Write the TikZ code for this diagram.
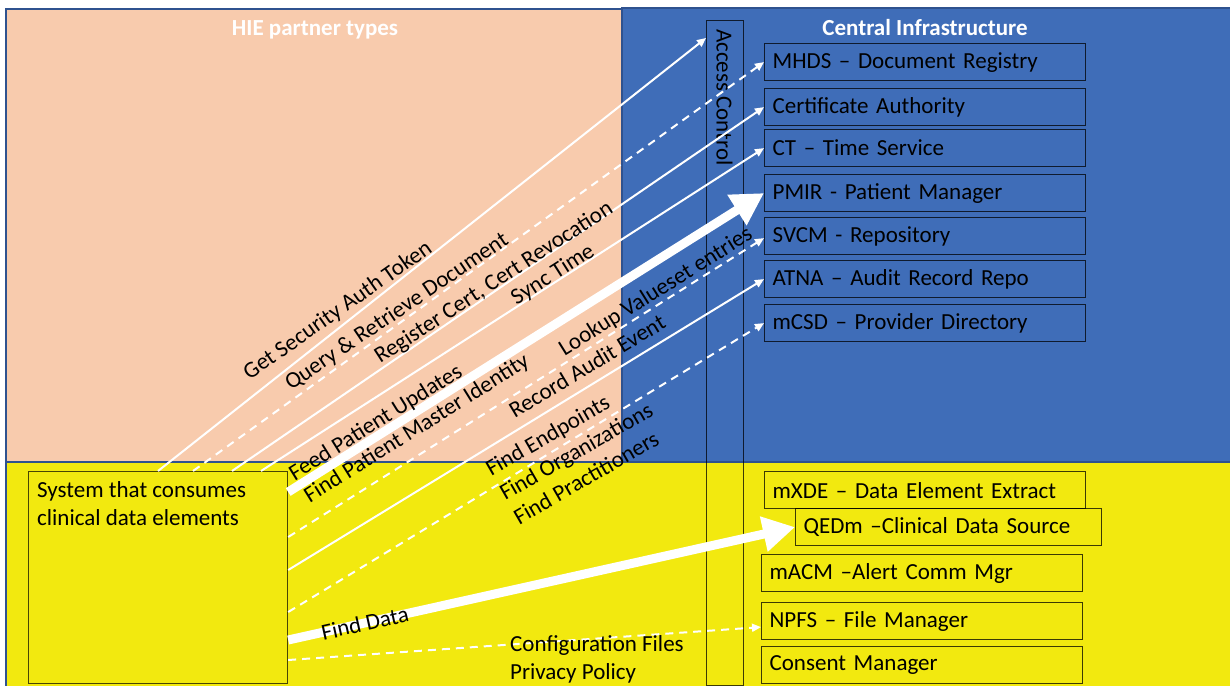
\documentclass[tikz,border=0pt]{standalone}
\usepackage{fontspec}
\setmainfont{Carlito}
\usetikzlibrary{arrows.meta}

\definecolor{salmon}{HTML}{F8CBAD}
\definecolor{infra}{HTML}{3F6DB8}
\definecolor{lemon}{HTML}{F2E90F}
\definecolor{zoneedge}{HTML}{2F528F}

\begin{document}
\begin{tikzpicture}[
  x=1pt, y=-1pt,
  font=\fontsize{23}{28}\selectfont,
  zone/.style={draw=zoneedge, line width=1.5pt},
  svc/.style={draw=black, draw opacity=0.75, line width=1.2pt, anchor=north west,
    minimum height=37pt, text width=#1, inner xsep=8pt, inner ysep=0pt,
    align=left, text=black},
  svc/.default=305pt,
  heading/.style={text=white, font=\fontsize{23}{28}\selectfont\bfseries, inner sep=0pt},
  lbl/.style={inner sep=0pt, text=black},
  flow/.style={white, line width=2pt, -{Triangle[length=9pt,width=8pt]}},
  dflow/.style={flow, dash pattern=on 8pt off 6pt},
  bigflow/.style={white, line width=9pt, -{Triangle[length=32pt,width=34pt]}}
]
\useasboundingbox (0,0) rectangle (1230,685);
\fill[white] (0,0) rectangle (1230,685);

% background zones
\fill[salmon] (6,9) rectangle (622,462);
\fill[infra] (622,8) rectangle (1232,462);
\fill[lemon] (6,462) rectangle (1232,687);
\draw[zone] (6,9) rectangle (622,462);
\draw[zone] (622,8) rectangle (1232,462);
\draw[zone] (6,462) rectangle (1232,687);

\node[heading] (hie) at (315,30) {HIE partner types};
\node[heading] (central) at (925,28) {Central Infrastructure};

% access control column
\node[draw=black, draw opacity=0.75, line width=1.2pt, anchor=north west,
      minimum width=37pt, minimum height=665pt, inner sep=0pt] (ac) at (706,20) {};
\node[lbl, rotate=-90, anchor=west] (actext) at (724.5,29) {Access Control};

% central services
\node[svc] (mhds) at (764,43) {MHDS -- Document Registry};
\node[svc] (ca) at (764,88) {Certificate Authority};
\node[svc] (ct) at (764,129) {CT -- Time Service};
\node[svc] (pmir) at (764,174) {PMIR - Patient Manager};
\node[svc] (svcm) at (764,217) {SVCM - Repository};
\node[svc] (atna) at (764,260) {ATNA -- Audit Record Repo};
\node[svc] (mcsd) at (764,304) {mCSD -- Provider Directory};

\node[svc] (mxde) at (764,471) {mXDE -- Data Element Extract};
\node[svc=290pt] (qedm) at (795,508) {QEDm --Clinical Data Source};
\node[svc] (macm) at (761,554) {mACM --Alert Comm Mgr};
\node[svc] (npfs) at (761,602) {NPFS -- File Manager};
\node[svc] (consent) at (761,646) {Consent Manager};

% consuming system
\node[draw=black, draw opacity=0.7, line width=1.2pt, anchor=north west,
      minimum width=259pt, minimum height=212pt, inner sep=0pt] (sys) at (28,471) {};
\node[lbl, anchor=north west, align=left] (systext) at (37,481)
  {System that consumes\\clinical data elements};

% transactions
\draw[flow]  ([xshift=130pt]sys.north west) -- ([yshift=-18pt]ac.north west);
\draw[dflow] ([xshift=165pt]sys.north west) -- (mhds.west);
\draw[flow]  ([xshift=204pt]sys.north west) -- (ca.west);
\draw[flow]  ([xshift=233pt]sys.north west) -- (ct.west);
\draw[bigflow] ([yshift=-21pt]sys.north east) -- (pmir.west);
\draw[dflow] ([yshift=-66pt]sys.north east) -- ([yshift=-2pt]svcm.west);
\draw[flow]  ([yshift=-99pt]sys.north east) -- (atna.west);
\draw[dflow] ([yshift=-141pt]sys.north east) -- (mcsd.west);
\draw[bigflow] ([yshift=-169pt]sys.north east) -- (qedm.west);
\draw[dflow] ([yshift=-189pt]sys.north east) -- ([yshift=-6pt]npfs.west);

% transaction labels
\node[lbl, rotate=35] (lget) at (338,311) {Get Security Auth Token};
\node[lbl, rotate=34] (lquery) at (397,312) {Query \& Retrieve Document};
\node[lbl, rotate=33] (lcert) at (494,283) {Register Cert, Cert Revocation};
\node[lbl, rotate=32.5] (lsync) at (553,275) {Sync Time};
\node[lbl, rotate=32] (lfeed) at (376,423) {Feed Patient Updates};
\node[lbl, rotate=32] (lpmi) at (417,429) {Find Patient Master Identity};
\node[lbl, rotate=32] (llookup) at (656,292) {Lookup Valueset entries};
\node[lbl, rotate=31] (laudit) at (587,366) {Record Audit Event};
\node[lbl, rotate=30, align=left] (lfind) at (576,451)
  {Find Endpoints\\Find Organizations\\Find Practitioners};
\node[lbl, rotate=12.5] (ldata) at (365,623) {Find Data};
\node[lbl, anchor=west, align=left] (lconfig) at (510,659)
  {Configuration Files\\Privacy Policy};
\end{tikzpicture}
\end{document}
